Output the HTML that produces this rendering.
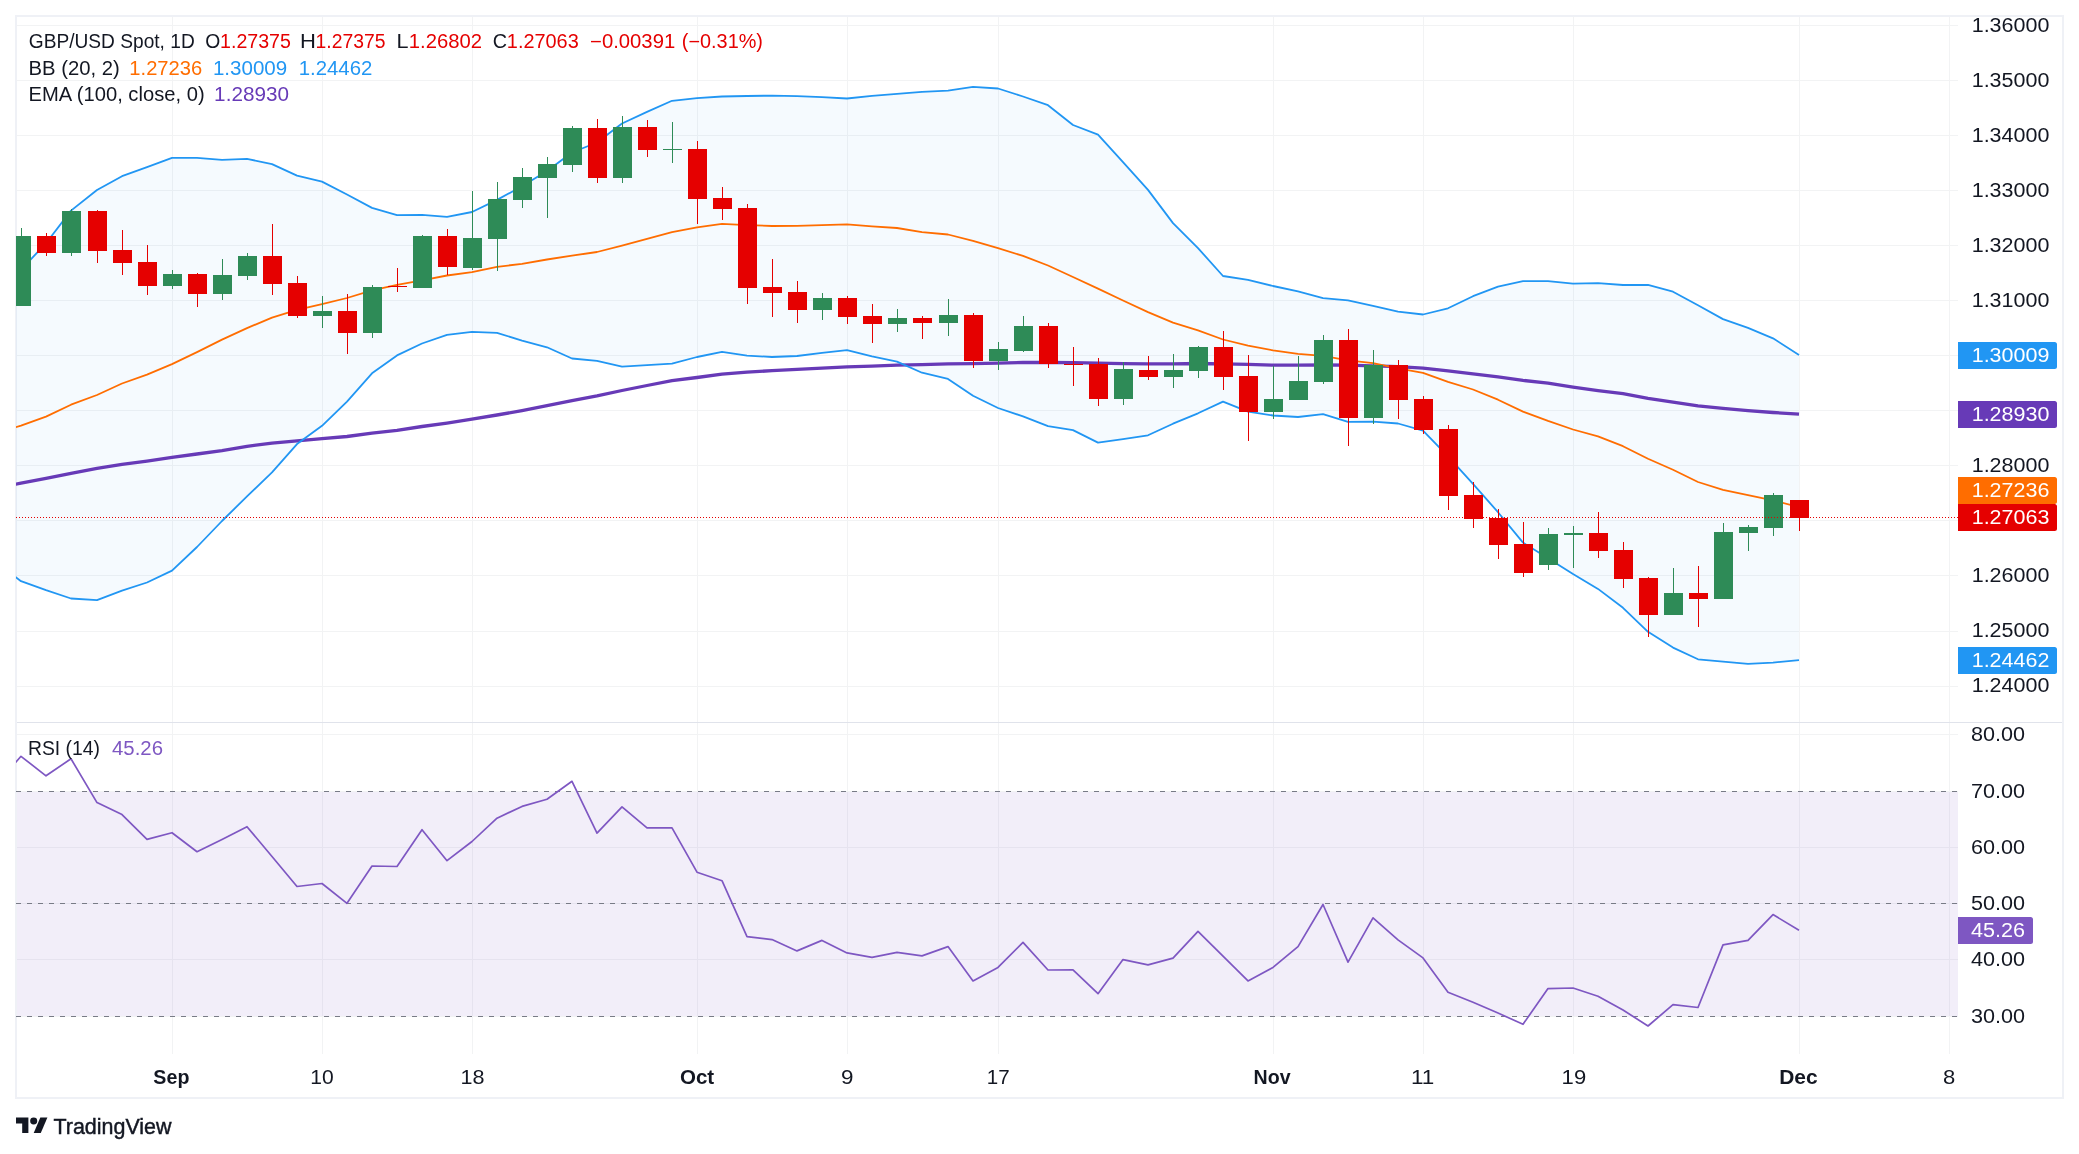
<!DOCTYPE html>
<html><head><meta charset="utf-8"><title>GBP/USD chart</title>
<style>
html,body{margin:0;padding:0;background:#fff;}
body{width:2079px;height:1154px;overflow:hidden;font-family:"Liberation Sans",sans-serif;}
svg{display:block;will-change:transform;}
text{font-family:"Liberation Sans",sans-serif;}
</style></head><body>
<svg width="2079" height="1154" viewBox="0 0 2079 1154">
<rect x="0" y="0" width="2079" height="1154" fill="#ffffff"/>
<defs>
<clipPath id="cm"><rect x="16" y="17" width="1942" height="705"/></clipPath>
<clipPath id="cr"><rect x="16" y="723" width="1942" height="331"/></clipPath>
</defs>

<g shape-rendering="crispEdges" fill="#F2F3F4">
<rect x="172" y="17" width="1" height="1037"/>
<rect x="322" y="17" width="1" height="1037"/>
<rect x="472" y="17" width="1" height="1037"/>
<rect x="697" y="17" width="1" height="1037"/>
<rect x="847" y="17" width="1" height="1037"/>
<rect x="998" y="17" width="1" height="1037"/>
<rect x="1273" y="17" width="1" height="1037"/>
<rect x="1423" y="17" width="1" height="1037"/>
<rect x="1573" y="17" width="1" height="1037"/>
<rect x="1799" y="17" width="1" height="1037"/>
<rect x="1949" y="17" width="1" height="1037"/>
<rect x="17" y="25" width="1941" height="1"/>
<rect x="17" y="80" width="1941" height="1"/>
<rect x="17" y="135" width="1941" height="1"/>
<rect x="17" y="190" width="1941" height="1"/>
<rect x="17" y="245" width="1941" height="1"/>
<rect x="17" y="300" width="1941" height="1"/>
<rect x="17" y="355" width="1941" height="1"/>
<rect x="17" y="410" width="1941" height="1"/>
<rect x="17" y="465" width="1941" height="1"/>
<rect x="17" y="520" width="1941" height="1"/>
<rect x="17" y="575" width="1941" height="1"/>
<rect x="17" y="631" width="1941" height="1"/>
<rect x="17" y="686" width="1941" height="1"/>
<rect x="17" y="734" width="1941" height="1"/>
<rect x="17" y="791" width="1941" height="1"/>
<rect x="17" y="847" width="1941" height="1"/>
<rect x="17" y="903" width="1941" height="1"/>
<rect x="17" y="959" width="1941" height="1"/>
<rect x="17" y="1016" width="1941" height="1"/>
</g>
<g shape-rendering="crispEdges" fill="#EFF1F6">
<rect x="15" y="15" width="2049" height="2"/>
<rect x="15" y="1097" width="2049" height="2"/>
<rect x="15" y="15" width="2" height="1084"/>
<rect x="2062" y="15" width="2" height="1084"/>
<rect x="17" y="722" width="2045" height="1" fill="#E0E3EB"/>
</g>
<g clip-path="url(#cm)">
<polygon points="-4.0,303.0 21.0,269.8 46.0,243.2 71.0,210.6 97.0,190.0 122.0,176.2 147.0,167.1 172.0,157.9 197.0,157.9 222.0,159.8 247.0,158.9 272.0,164.1 297.0,175.6 322.0,181.6 347.0,194.5 372.0,207.9 397.0,215.2 422.0,214.9 447.0,216.8 472.0,212.0 497.0,199.9 522.0,186.3 547.0,171.0 572.0,152.5 597.0,142.5 622.0,123.5 647.0,111.9 672.0,100.8 697.0,98.1 722.0,96.5 747.0,96.0 772.0,95.6 797.0,96.2 822.0,97.1 847.0,98.5 872.0,95.8 897.0,93.9 922.0,91.9 948.0,90.6 973.0,86.9 998.0,88.5 1023.0,96.5 1048.0,105.2 1073.0,125.0 1098.0,134.6 1123.0,162.2 1148.0,189.9 1173.0,223.1 1198.0,248.1 1223.0,276.0 1248.0,279.8 1273.0,286.0 1298.0,291.4 1323.0,298.1 1348.0,300.4 1373.0,305.8 1398.0,311.6 1423.0,314.5 1448.0,308.3 1473.0,296.2 1498.0,286.6 1523.0,281.2 1548.0,281.2 1573.0,283.7 1598.0,283.1 1623.0,285.0 1648.0,284.8 1673.0,291.7 1698.0,305.2 1723.0,319.1 1748.0,327.9 1773.0,338.3 1799.0,354.9 1799.0,660.1 1773.0,662.6 1748.0,663.9 1723.0,661.6 1698.0,659.3 1673.0,647.6 1648.0,631.8 1623.0,607.8 1598.0,588.9 1573.0,574.0 1548.0,558.3 1523.0,542.6 1498.0,512.2 1473.0,483.8 1448.0,456.4 1423.0,430.6 1398.0,423.5 1373.0,421.6 1348.0,421.8 1323.0,414.1 1298.0,417.0 1273.0,415.5 1248.0,411.6 1223.0,401.6 1198.0,413.3 1173.0,423.7 1148.0,435.3 1123.0,439.1 1098.0,442.6 1073.0,430.1 1048.0,426.2 1023.0,416.4 998.0,408.0 973.0,395.8 948.0,378.9 922.0,372.7 897.0,361.6 872.0,356.4 847.0,350.2 822.0,352.9 797.0,356.0 772.0,357.0 747.0,355.6 722.0,351.8 697.0,357.0 672.0,363.7 647.0,365.2 622.0,366.6 597.0,360.8 572.0,358.5 547.0,347.3 522.0,340.6 497.0,332.9 472.0,331.9 447.0,334.8 422.0,343.5 397.0,355.4 372.0,373.3 347.0,401.6 322.0,425.8 297.0,444.1 272.0,472.4 247.0,496.4 222.0,521.0 197.0,547.0 172.0,570.6 147.0,582.5 122.0,590.6 97.0,600.2 71.0,598.5 46.0,590.2 21.0,581.2 -4.0,562.5" fill="#2196F3" fill-opacity="0.045"/>
<polyline points="-4.0,488.3 21.0,483.1 46.0,478.4 71.0,473.3 97.0,468.4 122.0,464.4 147.0,461.1 172.0,457.3 197.0,454.0 222.0,450.6 247.0,446.3 272.0,443.2 297.0,440.9 322.0,438.6 347.0,436.5 372.0,433.2 397.0,430.3 422.0,426.5 447.0,423.1 472.0,419.2 497.0,415.0 522.0,410.6 547.0,405.7 572.0,400.6 597.0,395.9 622.0,390.5 647.0,385.5 672.0,380.7 697.0,377.5 722.0,374.2 747.0,372.1 772.0,370.7 797.0,369.4 822.0,368.2 847.0,366.9 872.0,366.1 897.0,365.2 922.0,364.6 948.0,363.8 973.0,363.6 998.0,363.2 1023.0,362.5 1048.0,362.5 1073.0,362.7 1098.0,363.2 1123.0,363.6 1148.0,363.8 1173.0,363.8 1198.0,363.5 1223.0,363.8 1248.0,364.4 1273.0,365.2 1298.0,365.2 1323.0,364.8 1348.0,365.2 1373.0,365.8 1398.0,366.7 1423.0,368.1 1448.0,370.9 1473.0,373.8 1498.0,376.9 1523.0,380.4 1548.0,383.1 1573.0,387.1 1598.0,390.6 1623.0,393.6 1648.0,398.3 1673.0,402.1 1698.0,405.9 1723.0,408.4 1748.0,410.6 1773.0,412.5 1799.0,414.2" fill="none" stroke="#673AB7" stroke-width="3.3" stroke-linejoin="round"/>
<polyline points="-4.0,303.0 21.0,269.8 46.0,243.2 71.0,210.6 97.0,190.0 122.0,176.2 147.0,167.1 172.0,157.9 197.0,157.9 222.0,159.8 247.0,158.9 272.0,164.1 297.0,175.6 322.0,181.6 347.0,194.5 372.0,207.9 397.0,215.2 422.0,214.9 447.0,216.8 472.0,212.0 497.0,199.9 522.0,186.3 547.0,171.0 572.0,152.5 597.0,142.5 622.0,123.5 647.0,111.9 672.0,100.8 697.0,98.1 722.0,96.5 747.0,96.0 772.0,95.6 797.0,96.2 822.0,97.1 847.0,98.5 872.0,95.8 897.0,93.9 922.0,91.9 948.0,90.6 973.0,86.9 998.0,88.5 1023.0,96.5 1048.0,105.2 1073.0,125.0 1098.0,134.6 1123.0,162.2 1148.0,189.9 1173.0,223.1 1198.0,248.1 1223.0,276.0 1248.0,279.8 1273.0,286.0 1298.0,291.4 1323.0,298.1 1348.0,300.4 1373.0,305.8 1398.0,311.6 1423.0,314.5 1448.0,308.3 1473.0,296.2 1498.0,286.6 1523.0,281.2 1548.0,281.2 1573.0,283.7 1598.0,283.1 1623.0,285.0 1648.0,284.8 1673.0,291.7 1698.0,305.2 1723.0,319.1 1748.0,327.9 1773.0,338.3 1799.0,354.9" fill="none" stroke="#2196F3" stroke-width="1.8" stroke-linejoin="round"/>
<polyline points="-4.0,562.5 21.0,581.2 46.0,590.2 71.0,598.5 97.0,600.2 122.0,590.6 147.0,582.5 172.0,570.6 197.0,547.0 222.0,521.0 247.0,496.4 272.0,472.4 297.0,444.1 322.0,425.8 347.0,401.6 372.0,373.3 397.0,355.4 422.0,343.5 447.0,334.8 472.0,331.9 497.0,332.9 522.0,340.6 547.0,347.3 572.0,358.5 597.0,360.8 622.0,366.6 647.0,365.2 672.0,363.7 697.0,357.0 722.0,351.8 747.0,355.6 772.0,357.0 797.0,356.0 822.0,352.9 847.0,350.2 872.0,356.4 897.0,361.6 922.0,372.7 948.0,378.9 973.0,395.8 998.0,408.0 1023.0,416.4 1048.0,426.2 1073.0,430.1 1098.0,442.6 1123.0,439.1 1148.0,435.3 1173.0,423.7 1198.0,413.3 1223.0,401.6 1248.0,411.6 1273.0,415.5 1298.0,417.0 1323.0,414.1 1348.0,421.8 1373.0,421.6 1398.0,423.5 1423.0,430.6 1448.0,456.4 1473.0,483.8 1498.0,512.2 1523.0,542.6 1548.0,558.3 1573.0,574.0 1598.0,588.9 1623.0,607.8 1648.0,631.8 1673.0,647.6 1698.0,659.3 1723.0,661.6 1748.0,663.9 1773.0,662.6 1799.0,660.1" fill="none" stroke="#2196F3" stroke-width="1.8" stroke-linejoin="round"/>
<polyline points="-4.0,433.3 21.0,425.6 46.0,416.6 71.0,404.7 97.0,395.0 122.0,383.5 147.0,374.6 172.0,364.1 197.0,352.1 222.0,339.6 247.0,328.1 272.0,317.6 297.0,309.9 322.0,304.1 347.0,298.0 372.0,290.3 397.0,284.9 422.0,280.3 447.0,275.5 472.0,272.2 497.0,266.8 522.0,263.9 547.0,259.5 572.0,255.7 597.0,252.0 622.0,245.7 647.0,238.9 672.0,232.2 697.0,227.4 722.0,223.9 747.0,225.1 772.0,226.0 797.0,225.8 822.0,225.1 847.0,224.3 872.0,226.4 897.0,228.0 922.0,232.2 948.0,234.5 973.0,240.8 998.0,248.2 1023.0,255.9 1048.0,265.5 1073.0,277.0 1098.0,288.6 1123.0,300.5 1148.0,312.1 1173.0,322.7 1198.0,330.4 1223.0,339.5 1248.0,345.6 1273.0,350.4 1298.0,353.9 1323.0,355.8 1348.0,360.3 1373.0,363.1 1398.0,368.3 1423.0,372.8 1448.0,381.8 1473.0,389.5 1498.0,399.7 1523.0,411.6 1548.0,420.9 1573.0,429.5 1598.0,436.4 1623.0,446.2 1648.0,458.7 1673.0,469.7 1698.0,482.0 1723.0,489.8 1748.0,495.2 1773.0,500.4 1799.0,507.1" fill="none" stroke="#FF6D00" stroke-width="1.8" stroke-linejoin="round"/>
<g shape-rendering="crispEdges">
<rect x="21" y="228" width="1" height="78" fill="#2E8B57"/>
<rect x="12" y="236" width="19" height="70" fill="#2E8B57"/>
<rect x="46" y="233" width="1" height="23" fill="#E50000"/>
<rect x="37" y="236" width="19" height="17" fill="#E50000"/>
<rect x="71" y="209" width="1" height="47" fill="#2E8B57"/>
<rect x="62" y="211" width="19" height="42" fill="#2E8B57"/>
<rect x="97" y="210" width="1" height="53" fill="#E50000"/>
<rect x="88" y="211" width="19" height="40" fill="#E50000"/>
<rect x="122" y="230" width="1" height="45" fill="#E50000"/>
<rect x="113" y="250" width="19" height="13" fill="#E50000"/>
<rect x="147" y="245" width="1" height="50" fill="#E50000"/>
<rect x="138" y="262" width="19" height="24" fill="#E50000"/>
<rect x="172" y="270" width="1" height="19" fill="#2E8B57"/>
<rect x="163" y="274" width="19" height="12" fill="#2E8B57"/>
<rect x="197" y="273" width="1" height="34" fill="#E50000"/>
<rect x="188" y="274" width="19" height="20" fill="#E50000"/>
<rect x="222" y="259" width="1" height="41" fill="#2E8B57"/>
<rect x="213" y="275" width="19" height="19" fill="#2E8B57"/>
<rect x="247" y="253" width="1" height="27" fill="#2E8B57"/>
<rect x="238" y="256" width="19" height="20" fill="#2E8B57"/>
<rect x="272" y="224" width="1" height="71" fill="#E50000"/>
<rect x="263" y="256" width="19" height="28" fill="#E50000"/>
<rect x="297" y="276" width="1" height="42" fill="#E50000"/>
<rect x="288" y="283" width="19" height="33" fill="#E50000"/>
<rect x="322" y="296" width="1" height="32" fill="#2E8B57"/>
<rect x="313" y="311" width="19" height="5" fill="#2E8B57"/>
<rect x="347" y="294" width="1" height="60" fill="#E50000"/>
<rect x="338" y="311" width="19" height="22" fill="#E50000"/>
<rect x="372" y="285" width="1" height="53" fill="#2E8B57"/>
<rect x="363" y="287" width="19" height="46" fill="#2E8B57"/>
<rect x="397" y="268" width="1" height="24" fill="#E50000"/>
<rect x="388" y="286" width="19" height="1" fill="#E50000"/>
<rect x="422" y="235" width="1" height="53" fill="#2E8B57"/>
<rect x="413" y="236" width="19" height="52" fill="#2E8B57"/>
<rect x="447" y="229" width="1" height="46" fill="#E50000"/>
<rect x="438" y="236" width="19" height="31" fill="#E50000"/>
<rect x="472" y="191" width="1" height="79" fill="#2E8B57"/>
<rect x="463" y="238" width="19" height="30" fill="#2E8B57"/>
<rect x="497" y="182" width="1" height="89" fill="#2E8B57"/>
<rect x="488" y="199" width="19" height="40" fill="#2E8B57"/>
<rect x="522" y="168" width="1" height="40" fill="#2E8B57"/>
<rect x="513" y="177" width="19" height="23" fill="#2E8B57"/>
<rect x="547" y="157" width="1" height="61" fill="#2E8B57"/>
<rect x="538" y="164" width="19" height="14" fill="#2E8B57"/>
<rect x="572" y="126" width="1" height="46" fill="#2E8B57"/>
<rect x="563" y="128" width="19" height="37" fill="#2E8B57"/>
<rect x="597" y="119" width="1" height="64" fill="#E50000"/>
<rect x="588" y="128" width="19" height="50" fill="#E50000"/>
<rect x="622" y="116" width="1" height="67" fill="#2E8B57"/>
<rect x="613" y="127" width="19" height="51" fill="#2E8B57"/>
<rect x="647" y="120" width="1" height="37" fill="#E50000"/>
<rect x="638" y="127" width="19" height="23" fill="#E50000"/>
<rect x="672" y="122" width="1" height="41" fill="#2E8B57"/>
<rect x="663" y="149" width="19" height="1" fill="#2E8B57"/>
<rect x="697" y="141" width="1" height="83" fill="#E50000"/>
<rect x="688" y="149" width="19" height="50" fill="#E50000"/>
<rect x="722" y="187" width="1" height="33" fill="#E50000"/>
<rect x="713" y="198" width="19" height="11" fill="#E50000"/>
<rect x="747" y="204" width="1" height="100" fill="#E50000"/>
<rect x="738" y="208" width="19" height="80" fill="#E50000"/>
<rect x="772" y="259" width="1" height="58" fill="#E50000"/>
<rect x="763" y="287" width="19" height="6" fill="#E50000"/>
<rect x="797" y="281" width="1" height="42" fill="#E50000"/>
<rect x="788" y="292" width="19" height="18" fill="#E50000"/>
<rect x="822" y="293" width="1" height="27" fill="#2E8B57"/>
<rect x="813" y="298" width="19" height="12" fill="#2E8B57"/>
<rect x="847" y="296" width="1" height="28" fill="#E50000"/>
<rect x="838" y="298" width="19" height="19" fill="#E50000"/>
<rect x="872" y="304" width="1" height="39" fill="#E50000"/>
<rect x="863" y="316" width="19" height="8" fill="#E50000"/>
<rect x="897" y="309" width="1" height="23" fill="#2E8B57"/>
<rect x="888" y="318" width="19" height="6" fill="#2E8B57"/>
<rect x="922" y="316" width="1" height="23" fill="#E50000"/>
<rect x="913" y="318" width="19" height="5" fill="#E50000"/>
<rect x="948" y="299" width="1" height="37" fill="#2E8B57"/>
<rect x="939" y="315" width="19" height="8" fill="#2E8B57"/>
<rect x="973" y="313" width="1" height="55" fill="#E50000"/>
<rect x="964" y="315" width="19" height="46" fill="#E50000"/>
<rect x="998" y="342" width="1" height="28" fill="#2E8B57"/>
<rect x="989" y="349" width="19" height="12" fill="#2E8B57"/>
<rect x="1023" y="316" width="1" height="36" fill="#2E8B57"/>
<rect x="1014" y="326" width="19" height="25" fill="#2E8B57"/>
<rect x="1048" y="323" width="1" height="45" fill="#E50000"/>
<rect x="1039" y="326" width="19" height="38" fill="#E50000"/>
<rect x="1073" y="347" width="1" height="39" fill="#E50000"/>
<rect x="1064" y="364" width="19" height="1" fill="#E50000"/>
<rect x="1098" y="358" width="1" height="48" fill="#E50000"/>
<rect x="1089" y="364" width="19" height="35" fill="#E50000"/>
<rect x="1123" y="362" width="1" height="43" fill="#2E8B57"/>
<rect x="1114" y="369" width="19" height="30" fill="#2E8B57"/>
<rect x="1148" y="356" width="1" height="24" fill="#E50000"/>
<rect x="1139" y="370" width="19" height="7" fill="#E50000"/>
<rect x="1173" y="354" width="1" height="34" fill="#2E8B57"/>
<rect x="1164" y="370" width="19" height="7" fill="#2E8B57"/>
<rect x="1198" y="346" width="1" height="32" fill="#2E8B57"/>
<rect x="1189" y="347" width="19" height="24" fill="#2E8B57"/>
<rect x="1223" y="331" width="1" height="59" fill="#E50000"/>
<rect x="1214" y="347" width="19" height="30" fill="#E50000"/>
<rect x="1248" y="355" width="1" height="86" fill="#E50000"/>
<rect x="1239" y="376" width="19" height="36" fill="#E50000"/>
<rect x="1273" y="366" width="1" height="53" fill="#2E8B57"/>
<rect x="1264" y="399" width="19" height="13" fill="#2E8B57"/>
<rect x="1298" y="356" width="1" height="44" fill="#2E8B57"/>
<rect x="1289" y="381" width="19" height="19" fill="#2E8B57"/>
<rect x="1323" y="335" width="1" height="49" fill="#2E8B57"/>
<rect x="1314" y="340" width="19" height="42" fill="#2E8B57"/>
<rect x="1348" y="329" width="1" height="117" fill="#E50000"/>
<rect x="1339" y="340" width="19" height="78" fill="#E50000"/>
<rect x="1373" y="350" width="1" height="74" fill="#2E8B57"/>
<rect x="1364" y="365" width="19" height="53" fill="#2E8B57"/>
<rect x="1398" y="360" width="1" height="59" fill="#E50000"/>
<rect x="1389" y="365" width="19" height="35" fill="#E50000"/>
<rect x="1423" y="396" width="1" height="38" fill="#E50000"/>
<rect x="1414" y="399" width="19" height="31" fill="#E50000"/>
<rect x="1448" y="425" width="1" height="85" fill="#E50000"/>
<rect x="1439" y="429" width="19" height="67" fill="#E50000"/>
<rect x="1473" y="482" width="1" height="46" fill="#E50000"/>
<rect x="1464" y="495" width="19" height="24" fill="#E50000"/>
<rect x="1498" y="509" width="1" height="50" fill="#E50000"/>
<rect x="1489" y="518" width="19" height="27" fill="#E50000"/>
<rect x="1523" y="522" width="1" height="55" fill="#E50000"/>
<rect x="1514" y="544" width="19" height="29" fill="#E50000"/>
<rect x="1548" y="528" width="1" height="42" fill="#2E8B57"/>
<rect x="1539" y="534" width="19" height="31" fill="#2E8B57"/>
<rect x="1573" y="526" width="1" height="42" fill="#2E8B57"/>
<rect x="1564" y="533" width="19" height="2" fill="#2E8B57"/>
<rect x="1598" y="512" width="1" height="46" fill="#E50000"/>
<rect x="1589" y="533" width="19" height="18" fill="#E50000"/>
<rect x="1623" y="542" width="1" height="46" fill="#E50000"/>
<rect x="1614" y="550" width="19" height="29" fill="#E50000"/>
<rect x="1648" y="577" width="1" height="60" fill="#E50000"/>
<rect x="1639" y="578" width="19" height="37" fill="#E50000"/>
<rect x="1673" y="568" width="1" height="47" fill="#2E8B57"/>
<rect x="1664" y="593" width="19" height="22" fill="#2E8B57"/>
<rect x="1698" y="566" width="1" height="61" fill="#E50000"/>
<rect x="1689" y="593" width="19" height="6" fill="#E50000"/>
<rect x="1723" y="523" width="1" height="76" fill="#2E8B57"/>
<rect x="1714" y="532" width="19" height="67" fill="#2E8B57"/>
<rect x="1748" y="525" width="1" height="26" fill="#2E8B57"/>
<rect x="1739" y="527" width="19" height="6" fill="#2E8B57"/>
<rect x="1773" y="493" width="1" height="43" fill="#2E8B57"/>
<rect x="1764" y="495" width="19" height="33" fill="#2E8B57"/>
<rect x="1799" y="500" width="1" height="31" fill="#E50000"/>
<rect x="1790" y="500" width="19" height="18" fill="#E50000"/>
</g>
<line x1="16" y1="517.5" x2="1958" y2="517.5" stroke="#E50000" stroke-width="1" stroke-dasharray="1 2" shape-rendering="crispEdges"/>
</g>
<g clip-path="url(#cr)">
<rect x="17" y="792" width="1941" height="224" fill="#7E57C2" fill-opacity="0.1"/>
<line x1="16" y1="791.5" x2="1958" y2="791.5" stroke="#787B86" stroke-width="1" stroke-dasharray="5 6" shape-rendering="crispEdges"/>
<line x1="16" y1="903.5" x2="1958" y2="903.5" stroke="#787B86" stroke-width="1" stroke-dasharray="5 6" shape-rendering="crispEdges"/>
<line x1="16" y1="1016.5" x2="1958" y2="1016.5" stroke="#787B86" stroke-width="1" stroke-dasharray="5 6" shape-rendering="crispEdges"/>
<polyline points="-4.0,784.5 21.0,756.3 46.0,775.8 71.0,758.8 97.0,802.6 122.0,814.6 147.0,839.4 172.0,832.7 197.0,851.7 222.0,839.4 247.0,826.7 272.0,856.5 297.0,886.5 322.0,883.5 347.0,903.3 372.0,866.0 397.0,866.5 422.0,829.7 447.0,860.7 472.0,841.5 497.0,818.2 522.0,806.4 547.0,799.3 572.0,781.3 597.0,833.1 622.0,806.8 647.0,827.9 672.0,827.9 697.0,872.2 722.0,880.7 747.0,936.6 772.0,939.6 797.0,950.9 822.0,940.4 847.0,952.9 872.0,957.4 897.0,952.4 922.0,955.9 948.0,946.6 973.0,980.9 998.0,967.4 1023.0,942.4 1048.0,970.0 1073.0,969.9 1098.0,993.7 1123.0,959.6 1148.0,964.9 1173.0,958.1 1198.0,931.3 1223.0,956.1 1248.0,980.9 1273.0,967.4 1298.0,946.6 1323.0,904.5 1348.0,962.2 1373.0,917.8 1398.0,939.9 1423.0,957.9 1448.0,992.2 1473.0,1002.2 1498.0,1013.0 1523.0,1024.3 1548.0,988.6 1573.0,988.0 1598.0,996.2 1623.0,1010.0 1648.0,1026.0 1673.0,1004.7 1698.0,1007.5 1723.0,944.9 1748.0,940.4 1773.0,914.6 1799.0,930.3" fill="none" stroke="#7E57C2" stroke-width="1.7" stroke-linejoin="round"/>
</g>
<text x="1971.7" y="32.1" font-size="19.3" fill="#131722" textLength="77.7" lengthAdjust="spacingAndGlyphs">1.36000</text>
<text x="1971.7" y="87.1" font-size="19.3" fill="#131722" textLength="77.7" lengthAdjust="spacingAndGlyphs">1.35000</text>
<text x="1971.7" y="142.1" font-size="19.3" fill="#131722" textLength="77.7" lengthAdjust="spacingAndGlyphs">1.34000</text>
<text x="1971.7" y="197.1" font-size="19.3" fill="#131722" textLength="77.7" lengthAdjust="spacingAndGlyphs">1.33000</text>
<text x="1971.7" y="252.1" font-size="19.3" fill="#131722" textLength="77.7" lengthAdjust="spacingAndGlyphs">1.32000</text>
<text x="1971.7" y="307.1" font-size="19.3" fill="#131722" textLength="77.7" lengthAdjust="spacingAndGlyphs">1.31000</text>
<text x="1971.7" y="472.1" font-size="19.3" fill="#131722" textLength="77.7" lengthAdjust="spacingAndGlyphs">1.28000</text>
<text x="1971.7" y="582.1" font-size="19.3" fill="#131722" textLength="77.7" lengthAdjust="spacingAndGlyphs">1.26000</text>
<text x="1971.7" y="637.1" font-size="19.3" fill="#131722" textLength="77.7" lengthAdjust="spacingAndGlyphs">1.25000</text>
<text x="1971.7" y="692.1" font-size="19.3" fill="#131722" textLength="77.7" lengthAdjust="spacingAndGlyphs">1.24000</text>
<text x="1971.0" y="741.1" font-size="19.3" fill="#131722" textLength="54" lengthAdjust="spacingAndGlyphs">80.00</text>
<text x="1971.0" y="797.6" font-size="19.3" fill="#131722" textLength="54" lengthAdjust="spacingAndGlyphs">70.00</text>
<text x="1971.0" y="853.9" font-size="19.3" fill="#131722" textLength="54" lengthAdjust="spacingAndGlyphs">60.00</text>
<text x="1971.0" y="910.1" font-size="19.3" fill="#131722" textLength="54" lengthAdjust="spacingAndGlyphs">50.00</text>
<text x="1971.0" y="966.3" font-size="19.3" fill="#131722" textLength="54" lengthAdjust="spacingAndGlyphs">40.00</text>
<text x="1971.0" y="1022.6" font-size="19.3" fill="#131722" textLength="54" lengthAdjust="spacingAndGlyphs">30.00</text>
<path d="M1958,342H2054.5Q2057,342 2057,344.5V366.5Q2057,369 2054.5,369H1958Z" fill="#2196F3"/><text x="1971.7" y="362.1" font-size="19.3" fill="#ffffff" textLength="77.7" lengthAdjust="spacingAndGlyphs">1.30009</text>
<path d="M1958,401H2054.5Q2057,401 2057,403.5V425.5Q2057,428 2054.5,428H1958Z" fill="#673AB7"/><text x="1971.7" y="421.1" font-size="19.3" fill="#ffffff" textLength="77.7" lengthAdjust="spacingAndGlyphs">1.28930</text>
<path d="M1958,477H2054.5Q2057,477 2057,479.5V501.5Q2057,504 2054.5,504H1958Z" fill="#FF6D00"/><text x="1971.7" y="497.1" font-size="19.3" fill="#ffffff" textLength="77.7" lengthAdjust="spacingAndGlyphs">1.27236</text>
<path d="M1958,504H2054.5Q2057,504 2057,506.5V528.5Q2057,531 2054.5,531H1958Z" fill="#E50000"/><text x="1971.7" y="524.1" font-size="19.3" fill="#ffffff" textLength="77.7" lengthAdjust="spacingAndGlyphs">1.27063</text>
<path d="M1958,647H2054.5Q2057,647 2057,649.5V671.5Q2057,674 2054.5,674H1958Z" fill="#2196F3"/><text x="1971.7" y="667.1" font-size="19.3" fill="#ffffff" textLength="77.7" lengthAdjust="spacingAndGlyphs">1.24462</text>
<path d="M1958,917H2030.5Q2033,917 2033,919.5V941.5Q2033,944 2030.5,944H1958Z" fill="#7E57C2"/><text x="1971.0" y="937.1" font-size="19.3" fill="#ffffff" textLength="54" lengthAdjust="spacingAndGlyphs">45.26</text>
<text x="153.39" y="1084" font-size="19.3" fill="#131722" textLength="36.0" lengthAdjust="spacingAndGlyphs" font-weight="bold">Sep</text>
<text x="310.38" y="1084" font-size="19.3" fill="#131722" textLength="23.43" lengthAdjust="spacingAndGlyphs">10</text>
<text x="460.46" y="1084" font-size="19.3" fill="#131722" textLength="23.98" lengthAdjust="spacingAndGlyphs">18</text>
<text x="679.96" y="1084" font-size="19.3" fill="#131722" textLength="34.24" lengthAdjust="spacingAndGlyphs" font-weight="bold">Oct</text>
<text x="841.11" y="1084" font-size="19.3" fill="#131722" textLength="12.48" lengthAdjust="spacingAndGlyphs">9</text>
<text x="986.71" y="1084" font-size="19.3" fill="#131722" textLength="22.88" lengthAdjust="spacingAndGlyphs">17</text>
<text x="1253.55" y="1084" font-size="19.3" fill="#131722" textLength="37.0" lengthAdjust="spacingAndGlyphs" font-weight="bold">Nov</text>
<text x="1410.95" y="1084" font-size="19.3" fill="#131722" textLength="23.33" lengthAdjust="spacingAndGlyphs">11</text>
<text x="1561.63" y="1084" font-size="19.3" fill="#131722" textLength="24.54" lengthAdjust="spacingAndGlyphs">19</text>
<text x="1779.2" y="1084" font-size="19.3" fill="#131722" textLength="38.44" lengthAdjust="spacingAndGlyphs" font-weight="bold">Dec</text>
<text x="1942.92" y="1084" font-size="19.3" fill="#131722" textLength="12.25" lengthAdjust="spacingAndGlyphs">8</text>
<text x="28.79" y="47.5" font-size="19.3" fill="#131722" textLength="165.92" lengthAdjust="spacingAndGlyphs">GBP/USD Spot, 1D</text>
<text x="205.16" y="47.5" font-size="19.3" fill="#131722" textLength="15.0" lengthAdjust="spacingAndGlyphs">O</text>
<text x="220.05" y="47.5" font-size="19.3" fill="#E50000" textLength="70.89" lengthAdjust="spacingAndGlyphs">1.27375</text>
<text x="300.0" y="47.5" font-size="19.3" fill="#131722" textLength="15.91" lengthAdjust="spacingAndGlyphs">H</text>
<text x="315.57" y="47.5" font-size="19.3" fill="#E50000" textLength="69.93" lengthAdjust="spacingAndGlyphs">1.27375</text>
<text x="396.5" y="47.5" font-size="19.3" fill="#131722" textLength="12.0" lengthAdjust="spacingAndGlyphs">L</text>
<text x="408.77" y="47.5" font-size="19.3" fill="#E50000" textLength="73.26" lengthAdjust="spacingAndGlyphs">1.26802</text>
<text x="492.8" y="47.5" font-size="19.3" fill="#131722" textLength="14.3" lengthAdjust="spacingAndGlyphs">C</text>
<text x="506.87" y="47.5" font-size="19.3" fill="#E50000" textLength="71.85" lengthAdjust="spacingAndGlyphs">1.27063</text>
<text x="590.07" y="47.5" font-size="19.3" fill="#E50000" textLength="85.15" lengthAdjust="spacingAndGlyphs">−0.00391</text>
<text x="681.87" y="47.5" font-size="19.3" fill="#E50000" textLength="81.08" lengthAdjust="spacingAndGlyphs">(−0.31%)</text>
<text x="28.53" y="74.5" font-size="19.3" fill="#131722" textLength="91.31" lengthAdjust="spacingAndGlyphs">BB (20, 2)</text>
<text x="129.35" y="74.5" font-size="19.3" fill="#FF6D00" textLength="72.85" lengthAdjust="spacingAndGlyphs">1.27236</text>
<text x="212.95" y="74.5" font-size="19.3" fill="#2196F3" textLength="74.26" lengthAdjust="spacingAndGlyphs">1.30009</text>
<text x="298.66" y="74.5" font-size="19.3" fill="#2196F3" textLength="73.75" lengthAdjust="spacingAndGlyphs">1.24462</text>
<text x="28.56" y="101.4" font-size="19.3" fill="#131722" textLength="176.05" lengthAdjust="spacingAndGlyphs">EMA (100, close, 0)</text>
<text x="214.14" y="101.4" font-size="19.3" fill="#673AB7" textLength="74.78" lengthAdjust="spacingAndGlyphs">1.28930</text>
<text x="27.95" y="755" font-size="19.3" fill="#131722" textLength="71.99" lengthAdjust="spacingAndGlyphs">RSI (14)</text>
<text x="112.0" y="755" font-size="19.3" fill="#7E57C2" textLength="51.0" lengthAdjust="spacingAndGlyphs">45.26</text>
<g transform="translate(16,1114.2) scale(0.885,0.85)" fill="#131722"><path d="M14 22H7V11H0V4h14v18z"/><circle cx="20" cy="8" r="4"/><path d="M28 22h-8l7.5-18h8L28 22z"/></g>
<text stroke="#131722" stroke-width="0.45" x="53.5" y="1133.8" font-size="21.2" fill="#131722" textLength="118.0" lengthAdjust="spacingAndGlyphs">TradingView</text>
</svg></body></html>
